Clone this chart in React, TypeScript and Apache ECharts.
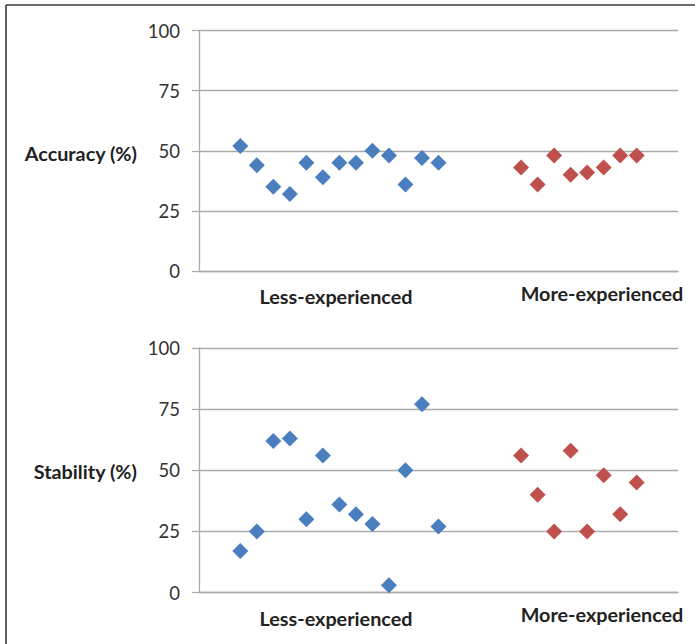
import React, { useEffect, useRef } from "react";
import * as echarts from "echarts";

const yTicks = [0, 25, 50, 75, 100];
const groupLabels = ["Less-experienced", "More-experienced"];
const panelTitles = ["Accuracy (%)", "Stability (%)"];

const lessX = [0, 1, 2, 3, 4, 5, 6, 7, 8, 9, 10, 11, 12];
const moreX = [17, 18, 19, 20, 21, 22, 23, 24];

const accuracyLess = [52, 44, 35, 32, 45, 39, 45, 45, 50, 48, 36, 47, 45];
const accuracyMore = [43, 36, 48, 40, 41, 43, 48, 48];
const stabilityLess = [17, 25, 62, 63, 30, 56, 36, 32, 28, 3, 50, 77, 27];
const stabilityMore = [56, 40, 25, 58, 25, 48, 32, 45];

const BLUE = "#4A7EBF";
const RED = "#C0504D";
const FONT = "Lato";

function pairs(xs: number[], ys: number[]) {
  return xs.map((x, i) => [x, ys[i]]);
}

export default function App() {
  const ref = useRef<HTMLDivElement>(null);
  useEffect(() => {
    if (!ref.current) return;
    const chart = echarts.init(ref.current, null, { renderer: "svg" });
    const grids = [
      { left: 199, right: 17, top: 30.5, height: 240.5 },
      { left: 199, right: 17, top: 348, height: 244.5 },
    ];
    const xAxes = grids.map((_, i) => ({
      type: "value",
      gridIndex: i,
      min: -2.5,
      max: 26.5,
      axisLabel: { show: false },
      axisTick: { show: false },
      splitLine: { show: false },
      axisLine: { show: true, onZero: false, lineStyle: { color: "#ABABAB", width: 1.3 } },
    }));
    const yAxes = grids.map((_, i) => ({
      type: "value",
      gridIndex: i,
      min: 0,
      max: 100,
      interval: 25,
      axisLabel: {
        fontFamily: FONT,
        fontSize: 18.5,
        color: "#333",
        margin: 19,
        formatter: (v: number) => (yTicks.includes(v) ? String(v) : ""),
      },
      axisTick: { show: true, length: 7, lineStyle: { color: "#ABABAB", width: 1.3 } },
      axisLine: { show: true, onZero: false, lineStyle: { color: "#ABABAB", width: 1.3 } },
      splitLine: { show: true, lineStyle: { color: "#ABABAB", width: 1.3 } },
    }));
    const mk = (data: number[][], idx: number, color: string) => ({
      type: "scatter",
      xAxisIndex: idx,
      yAxisIndex: idx,
      symbol: "diamond",
      symbolSize: 16,
      itemStyle: { color, opacity: 1 },
      data,
    });
    const labelStyle = (x: number, y: number, text: string, align = "center") => ({
      type: "text",
      x,
      y,
      style: {
        text,
        fontFamily: FONT,
        fontWeight: "bold",
        fontSize: 19.8,
        fill: "#222",
        textAlign: align,
        textVerticalAlign: "middle",
      },
    });
    chart.setOption({
      animation: false,
      grid: grids,
      xAxis: xAxes,
      yAxis: yAxes,
      series: [
        mk(pairs(lessX, accuracyLess), 0, BLUE),
        mk(pairs(moreX, accuracyMore), 0, RED),
        mk(pairs(lessX, stabilityLess), 1, BLUE),
        mk(pairs(moreX, stabilityMore), 1, RED),
      ],
      graphic: [
        { type: "line", shape: { x1: 6, y1: 5, x2: 695, y2: 5 }, style: { stroke: "#3a3a3a", lineWidth: 1.6 } },
        { type: "line", shape: { x1: 6, y1: 5, x2: 6, y2: 644 }, style: { stroke: "#3a3a3a", lineWidth: 1.6 } },
        labelStyle(137, 153, panelTitles[0], "right"),
        labelStyle(137, 471, panelTitles[1], "right"),
        labelStyle(336, 296, groupLabels[0]),
        labelStyle(602, 293, groupLabels[1]),
        labelStyle(336, 618, groupLabels[0]),
        labelStyle(602, 614, groupLabels[1]),
      ],
    });
    return () => chart.dispose();
  }, []);
  return (
    <div
      ref={ref}
      style={{ position: "absolute", left: 0, top: 0, width: 695, height: 644, background: "#fff" }}
    />
  );
}
